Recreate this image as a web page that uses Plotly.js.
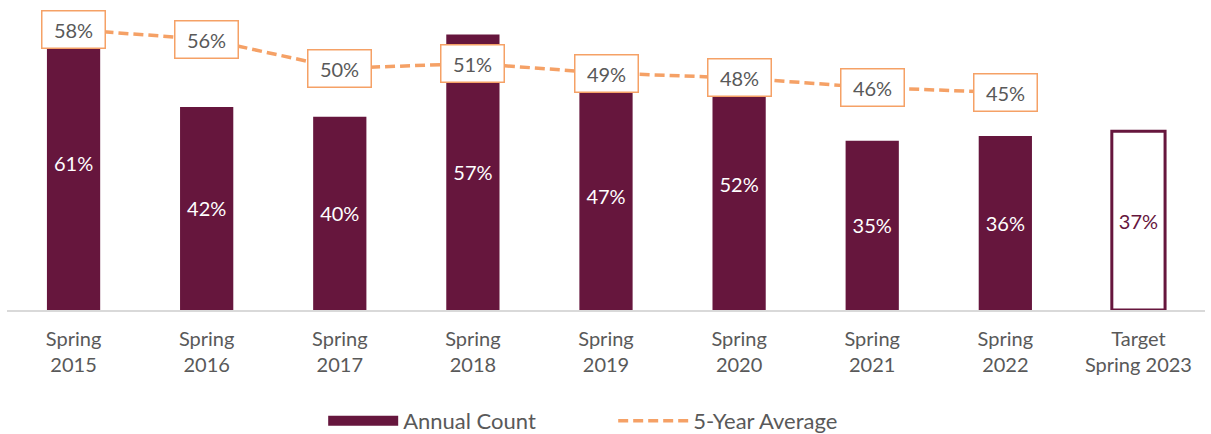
<!DOCTYPE html>
<html>
<head>
<meta charset="utf-8">
<script src="https://cdn.plot.ly/plotly-3.0.1.min.js"></script>
<style>html,body{margin:0;padding:0;background:#fff;}#chart{width:1211px;height:434px;}</style>
</head>
<body>
<div id="chart"></div>
<script>
const categories = ["Spring<br>2015","Spring<br>2016","Spring<br>2017","Spring<br>2018","Spring<br>2019","Spring<br>2020","Spring<br>2021","Spring<br>2022","Target<br>Spring 2023"];
const annualPct = [61, 42, 40, 57, 47, 52, 35, 36, 37];
const avgCategories = categories.slice(0, 8);
const fiveYearAvg = [58, 56, 50, 51, 49, 48, 46, 45];

const maroon = '#66163d';
const orange = '#f5a166';
const gray = '#595959';
const FONT = 'Lato, sans-serif';
const isTarget = categories.map((c, i) => i === categories.length - 1);

const bars = {
  type: 'bar', name: 'Annual Count', showlegend: false,
  x: categories, y: annualPct,
  text: annualPct.map(v => v + '%'),
  textposition: 'inside', insidetextanchor: 'middle',
  textfont: { family: FONT, size: 20, color: isTarget.map(t => t ? maroon : '#ffffff') },
  marker: {
    color: isTarget.map(t => t ? '#ffffff' : maroon),
    line: { color: maroon, width: isTarget.map(t => t ? 3 : 0) }
  },
  hoverinfo: 'skip'
};
// legend-only entry to draw the wide bar swatch
const barLegend = {
  type: 'scatter', mode: 'lines', name: 'Annual Count',
  x: [null], y: [null],
  line: { color: maroon, width: 12 },
  hoverinfo: 'skip'
};
const line = {
  type: 'scatter', mode: 'lines', name: '5-Year Average',
  x: avgCategories, y: fiveYearAvg,
  line: { color: orange, width: 3.5, dash: '10px,5px' },
  hoverinfo: 'skip'
};
const annotations = fiveYearAvg.map((v, i) => ({
  x: avgCategories[i], y: v, xref: 'x', yref: 'y',
  text: v + '%', showarrow: false,
  font: { family: FONT, size: 20, color: gray },
  width: 58, height: 32,
  bgcolor: '#ffffff', bordercolor: orange, borderwidth: 1.5, borderpad: 2
}));

const layout = {
  width: 1211, height: 434,
  margin: { l: 7, r: 6, t: 5, b: 124 },
  paper_bgcolor: '#ffffff', plot_bgcolor: '#ffffff',
  bargap: 0.6,
  showlegend: true,
  legend: { orientation: 'h', x: 0.506, xanchor: 'center', yref: 'container', y: 0.03, yanchor: 'middle',
            font: { family: FONT, size: 22, color: gray }, itemwidth: 70, entrywidth: 205, traceorder: 'normal' },
  xaxis: { type: 'category', showline: true, linecolor: '#d9d9d9', linewidth: 1.5, showgrid: false, ticks: '',
           ticklabelstandoff: 10,
           tickfont: { family: FONT, size: 20, color: gray }, fixedrange: true },
  yaxis: { range: [0, 63.1], visible: false, showgrid: false, zeroline: false, fixedrange: true },
  annotations: annotations
};
Plotly.newPlot('chart', [bars, barLegend, line], layout, { displayModeBar: false, staticPlot: true });
</script>
</body>
</html>
